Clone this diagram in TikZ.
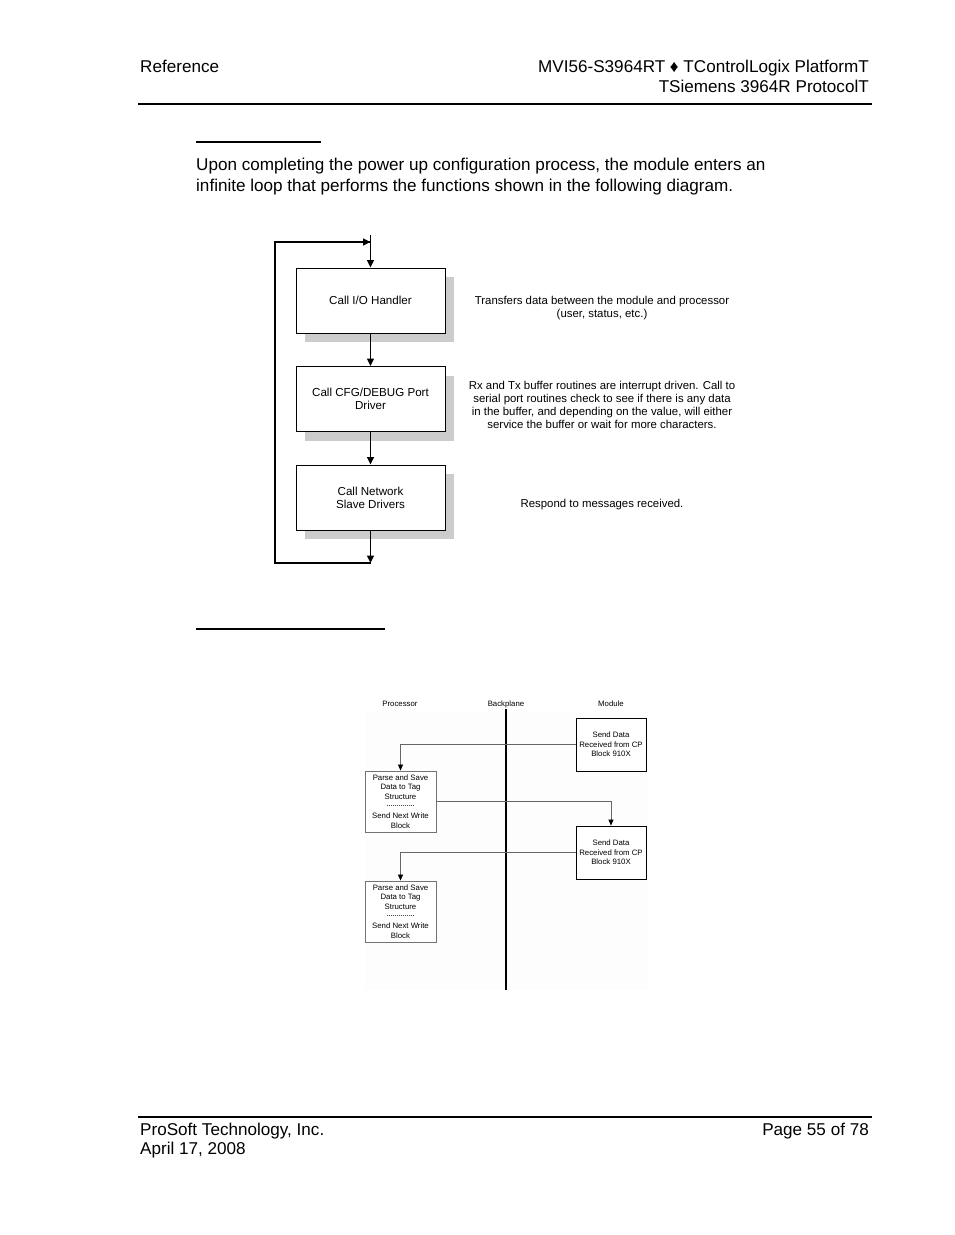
\documentclass[tikz,border=0pt]{standalone}
\usepackage{fontspec}
\setmainfont{Liberation Sans}
\usetikzlibrary{arrows.meta,shadows}
\begin{document}
\begin{tikzpicture}[x=1pt,y=-1pt,
  bodytext/.style={font=\fontsize{17.1}{21}\selectfont, inner sep=0pt},
  flowbox/.style={draw=black, line width=0.9pt, fill=white, minimum width=149pt, minimum height=65pt, inner sep=2pt, align=center, font=\fontsize{11.6}{13}\selectfont,
     drop shadow={shadow xshift=9pt, shadow yshift=-9pt, fill=black!20, opacity=1}},
  note/.style={align=center, font=\fontsize{11.4}{13}\selectfont, inner sep=0pt},
  flowarr/.style={line width=1.4pt, -{Triangle[length=7.5pt,width=7pt]}},
  flowline/.style={line width=1.4pt},
  small/.style={font=\fontsize{7.8}{9.6}\selectfont, inner sep=0pt, align=center},
  modbox/.style={draw=black, line width=0.8pt, fill=white, minimum width=70pt, minimum height=53pt, inner sep=1pt, align=center, font=\fontsize{7.8}{9.6}\selectfont},
  procbox/.style={draw=black!55, line width=0.9pt, fill=white, minimum width=71pt, minimum height=61pt, inner sep=1pt, align=center, font=\fontsize{7.8}{9.6}\selectfont},
  conn/.style={draw=black!60, line width=0.7pt, -{Triangle[length=6pt,width=5pt,color=black]}}
]
\useasboundingbox[fill=white] (0,0) rectangle (954,1235);

% header
\node[bodytext, anchor=base west] (hdrl) at (140,72) {Reference};
\node[bodytext, anchor=base east] (hdr1) at (869,72) {MVI56-S3964RT ♦ TControlLogix PlatformT};
\node[bodytext, anchor=base east] (hdr2) at (869,92) {TSiemens 3964R ProtocolT};
\draw[line width=1.2pt] (138,104) -- (872,104);

% heading underline 1
\draw[line width=1.1pt] (196,142) -- (321,142);
\node[bodytext, anchor=base west] (p1) at (196,170) {Upon completing the power up configuration process, the module enters an};
\node[bodytext, anchor=base west] (p2) at (196,191) {infinite loop that performs the functions shown in the following diagram.};

% flow chart
\node[flowbox] (b1) at (370.5,300.5) {Call I/O Handler};
\node[flowbox] (b2) at (370.5,399) {Call CFG/DEBUG Port\\Driver};
\node[flowbox] (b3) at (370.5,497.5) {Call Network\\Slave Drivers};
\coordinate (entry) at (370.5,235);
\coordinate (bot) at (370.5,563);
\coordinate (botl) at (275,563);
\coordinate (topl) at (275,242);
\coordinate (topr) at (370.5,242);
\draw[flowarr] (entry) -- (b1.north);
\draw[flowarr] (b1.south) -- (b2.north);
\draw[flowarr] (b2.south) -- (b3.north);
\draw[flowarr] (b3.south) -- (bot);
\draw[flowline] (bot) -- (botl) -- (topl) -- (topr);
\draw[flowarr] (topl) -- (topr);

\node[note] (t1) at (602,308.5) {Transfers data between the module and processor\\(user, status, etc.)};
\node[note] (t2) at (602,405) {Rx and Tx buffer routines are interrupt driven. Call to\\serial port routines check to see if there is any data\\in the buffer, and depending on the value, will either\\service the buffer or wait for more characters.};
\node[note] (t3) at (602,505) {Respond to messages received.};

% heading underline 2
\draw[line width=1.1pt] (196,629) -- (385,629);

% bottom diagram
\fill[black!0.8] (365,712) rectangle (648,990);
\node[small, anchor=base] (lp) at (400,706) {Processor};
\node[small, anchor=base] (lb) at (506,706) {Backplane};
\node[small, anchor=base] (lm) at (611,706) {Module};
\coordinate (bpt) at (506,709);
\coordinate (bpb) at (506,990);
\draw[line width=1.1pt] (bpt) -- (bpb);

\node[modbox] (m1) at (611,744.5) {Send Data\\Received from CP\\Block 910X};
\node[procbox] (q1) at (400.5,801.5) {Parse and Save\\Data to Tag\\Structure\\[9.6pt]Send Next Write\\Block};
\node[modbox] (m2) at (611,852.5) {Send Data\\Received from CP\\Block 910X};
\node[procbox] (q2) at (400.5,911.5) {Parse and Save\\Data to Tag\\Structure\\[9.6pt]Send Next Write\\Block};
\draw[black!70, line width=0.5pt, dash pattern=on 1pt off 1pt] ([xshift=-14pt,yshift=-4pt]q1.center) -- ([xshift=14pt,yshift=-4pt]q1.center);
\draw[black!70, line width=0.5pt, dash pattern=on 1pt off 1pt] ([xshift=-14pt,yshift=-4pt]q2.center) -- ([xshift=14pt,yshift=-4pt]q2.center);

\draw[conn] (m1.west) -| (q1.north);
\draw[conn] (q1.east) -| (m2.north);
\draw[conn] (m2.west) -| (q2.north);

% footer
\draw[line width=1.2pt] (138,1117) -- (872,1117);
\node[bodytext, anchor=base west] (f1) at (140,1135) {ProSoft Technology, Inc.};
\node[bodytext, anchor=base west] (f2) at (140,1154) {April 17, 2008};
\node[bodytext, anchor=base east] (f3) at (869,1135) {Page 55 of 78};
\end{tikzpicture}
\end{document}
